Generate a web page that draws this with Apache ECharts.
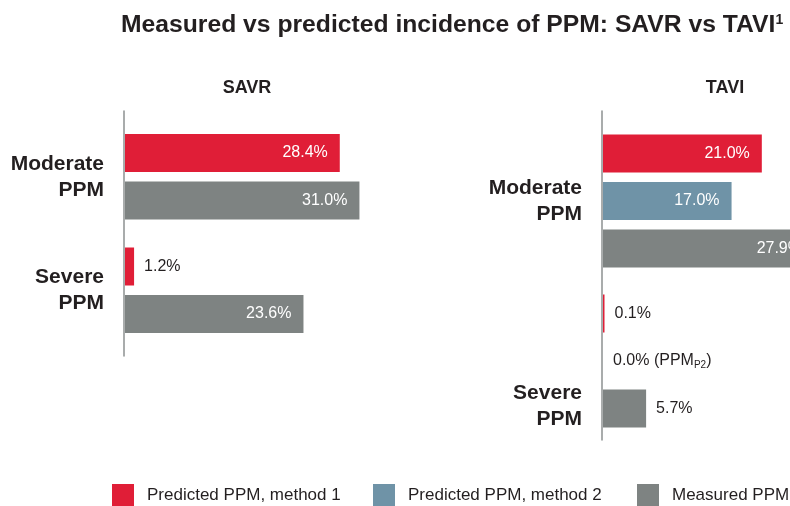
<!DOCTYPE html>
<html>
<head>
<meta charset="utf-8">
<script src="https://cdn.jsdelivr.net/npm/echarts@6/dist/echarts.min.js"></script>
<style>html,body{margin:0;padding:0;background:#fff;}#c{width:790px;height:506px;}</style>
</head>
<body>
<div id="c"></div>
<script>
// ---- data ----
const categories = ['Moderate\nPPM', 'Severe\nPPM'];
const seriesNames = ['Predicted PPM, method 1', 'Predicted PPM, method 2', 'Measured PPM'];
const savrMethod1 = [28.4, 1.2];
const savrMeasured = [31.0, 23.6];
const taviMethod1 = [21.0, 0.1];
const taviMethod2 = [17.0, 0.0];
const taviMeasured = [27.9, 5.7];
const taviMethod2Notes = ['', ' ({n|PPM}{sub|P2}{n|)}'];

const colors = ['#e01e37', '#6f93a7', '#7e8382'];
const dark = '#231f20';
const FONT = 'Liberation Sans';

function labelled(values, notes) {
  return values.map((v, i) => {
    const inside = v >= 10;
    return {
      value: v,
      label: {
        show: true,
        position: inside ? 'insideRight' : 'right',
        distance: inside ? 12 : 10,
        color: inside ? '#ffffff' : dark,
        fontSize: 16,
        fontFamily: FONT,
        formatter: '{n|' + v.toFixed(1) + '%}' + (notes ? notes[i] : ''),
        rich: {
          n: { fontSize: 16, fontFamily: FONT, color: inside ? '#ffffff' : dark },
          sub: { fontSize: 10, fontFamily: FONT, color: dark, padding: [8, 0, 0, 0] }
        }
      }
    };
  });
}

function barSeries(name, values, axisIdx, colorIdx, notes, minLen) {
  return {
    name: name,
    type: 'bar',
    xAxisIndex: axisIdx,
    yAxisIndex: axisIdx,
    data: labelled(values, notes),
    barWidth: 38,
    barGap: '25%',
    barMinHeight: minLen || 0,
    clip: false,
    itemStyle: { color: colors[colorIdx] },
    silent: true
  };
}

const chart = echarts.init(document.getElementById('c'), null, { renderer: 'canvas' });

const hiddenX = (i) => ({ type: 'value', gridIndex: i, min: 0, max: 32, show: false });
const labelAxis = (i, padSevere) => ({
  type: 'category', gridIndex: i, inverse: true,
  data: categories,
  axisLine: { show: false }, axisTick: { show: false }, splitLine: { show: false },
  axisLabel: {
    margin: 21, fontSize: 21, fontWeight: 'bold', fontFamily: FONT, color: dark, lineHeight: 26, align: 'right',
    formatter: (v) => {
      const lines = v.split('\n').map(s => '{b|' + s + '}').join('\n');
      return (padSevere && v === categories[1]) ? '{g| }\n' + lines : lines;
    },
    rich: {
      b: { fontSize: 21, fontWeight: 'bold', fontFamily: FONT, color: dark, lineHeight: 26 },
      g: { fontSize: 10, lineHeight: 90 }
    }
  }
});
const lineAxis = (i) => ({
  type: 'value', gridIndex: i, min: 0, max: 1,
  axisLine: { show: true, lineStyle: { color: '#8c9191', width: 1.5 } },
  axisTick: { show: false }, axisLabel: { show: false }, splitLine: { show: false }
});
const legendItem = (k, left) => ({
  left: left, top: 484, padding: 0,
  icon: 'rect', itemWidth: 22, itemHeight: 22,
  data: [seriesNames[k]],
  textStyle: { fontSize: 17, fontFamily: FONT, color: dark, padding: [0, 0, 0, 8] },
  selectedMode: false
});

chart.setOption({
  animation: false,
  backgroundColor: '#ffffff',
  color: colors,
  title: [
    {
      left: 116, top: 8,
      text: '{t|Measured vs predicted incidence of PPM: SAVR vs TAVI}{s|1}',
      textStyle: {
        rich: {
          t: { fontSize: 24.7, fontWeight: 'bold', fontFamily: FONT, color: dark },
          s: { fontSize: 14, fontWeight: 'bold', fontFamily: FONT, color: dark, padding: [0, 0, 10, 0] }
        }
      }
    },
    { left: 242, top: 74, textAlign: 'center', text: 'SAVR', textStyle: { fontSize: 18, fontWeight: 'bold', fontFamily: FONT, color: dark } },
    { left: 720, top: 74, textAlign: 'center', text: 'TAVI', textStyle: { fontSize: 18, fontWeight: 'bold', fontFamily: FONT, color: dark } }
  ],
  legend: [legendItem(0, 112), legendItem(1, 373), legendItem(2, 637)],
  grid: [
    { left: 125, top: 120, width: 242, height: 227, outerBoundsMode: 'none', containLabel: false },
    { left: 124, top: 111, width: 242, height: 245, outerBoundsMode: 'none', containLabel: false },
    { left: 603, top: 121, width: 242, height: 320, outerBoundsMode: 'none', containLabel: false },
    { left: 602, top: 111, width: 242, height: 329, outerBoundsMode: 'none', containLabel: false }
  ],
  xAxis: [hiddenX(0), hiddenX(1), hiddenX(2), hiddenX(3)],
  yAxis: [labelAxis(0, false), lineAxis(1), labelAxis(2, true), lineAxis(3)],
  series: [
    barSeries(seriesNames[0], savrMethod1, 0, 0),
    barSeries(seriesNames[2], savrMeasured, 0, 2),
    barSeries(seriesNames[0], taviMethod1, 2, 0, null, 1.5),
    barSeries(seriesNames[1], taviMethod2, 2, 1, taviMethod2Notes),
    barSeries(seriesNames[2], taviMeasured, 2, 2)
  ]
});
</script>
</body>
</html>
